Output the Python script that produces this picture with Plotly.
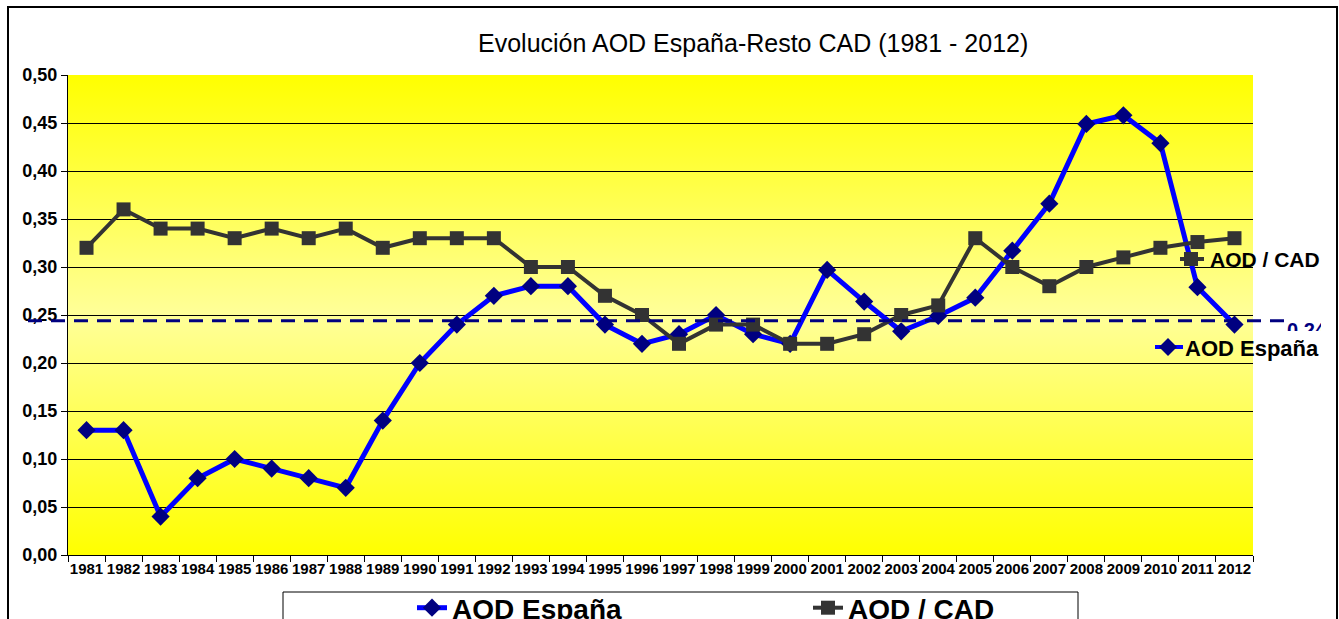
import plotly.graph_objects as go

# ---------------- data ----------------
years = ["1981", "1982", "1983", "1984", "1985", "1986", "1987", "1988", "1989", "1990",
         "1991", "1992", "1993", "1994", "1995", "1996", "1997", "1998", "1999", "2000",
         "2001", "2002", "2003", "2004", "2005", "2006", "2007", "2008", "2009", "2010",
         "2011", "2012"]
aod_espana = [0.13, 0.13, 0.04, 0.08, 0.10, 0.09, 0.08, 0.07, 0.14, 0.20,
              0.24, 0.27, 0.28, 0.28, 0.24, 0.22, 0.23, 0.25, 0.23, 0.22,
              0.297, 0.264, 0.233, 0.249, 0.268, 0.317, 0.366, 0.449, 0.458, 0.429,
              0.279, 0.24]
aod_cad = [0.32, 0.36, 0.34, 0.34, 0.33, 0.34, 0.33, 0.34, 0.32, 0.33,
           0.33, 0.33, 0.30, 0.30, 0.27, 0.25, 0.22, 0.24, 0.24, 0.22,
           0.22, 0.23, 0.25, 0.26, 0.33, 0.30, 0.28, 0.30, 0.31, 0.32,
           0.326, 0.33]
media_cad = 0.244
media_label = "0,24"
series_names = ["AOD España", "AOD / CAD"]
title_text = "Evolución AOD España-Resto CAD (1981 - 2012)"

# ---------------- layout helpers ----------------
W, H = 1339, 619
L, R, T, B = 68, 1253, 75, 555


def px2x(p):
    return (p - L) / (R - L)


def py2y(p):
    return (B - p) / (B - T)


ARIAL = "Liberation Sans, Arial, sans-serif"

BLUE = "#0000FF"
NAVY = "#000080"
GREY = "#333333"

fig = go.Figure()

fig.add_trace(go.Scatter(
    x=years, y=aod_espana, name=series_names[0], mode="lines+markers",
    line=dict(color=BLUE, width=5),
    marker=dict(symbol="diamond", size=14, color=NAVY),
))
fig.add_trace(go.Scatter(
    x=years, y=aod_cad, name=series_names[1], mode="lines+markers",
    line=dict(color=GREY, width=4),
    marker=dict(symbol="square", size=14, color=GREY),
))

# gradient background of plot area (svg data uri)
grad_svg = ("data:image/svg+xml;utf8,"
            "<svg xmlns='http://www.w3.org/2000/svg' width='10' height='100' preserveAspectRatio='none'>"
            "<defs><linearGradient id='g' x1='0' y1='0' x2='0' y2='1'>"
            "<stop offset='0' stop-color='%23FFFF00'/>"
            "<stop offset='0.5' stop-color='%23FFFF99'/>"
            "<stop offset='1' stop-color='%23FFFF00'/>"
            "</linearGradient></defs>"
            "<rect width='10' height='100' fill='url(%23g)'/></svg>")
fig.add_layout_image(dict(source=grad_svg, xref="paper", yref="paper", x=0, y=1,
                          sizex=1, sizey=1, xanchor="left", yanchor="top",
                          sizing="stretch", layer="below"))

shapes = []
# outer chart border
shapes.append(dict(type="rect", xref="paper", yref="paper",
                   x0=px2x(8), x1=px2x(1337), y0=py2y(7), y1=py2y(660),
                   line=dict(color="#000000", width=2), fillcolor="rgba(0,0,0,0)",
                   layer="above"))
# average dashed line
shapes.append(dict(type="line", xref="paper", yref="y",
                   x0=px2x(28), x1=px2x(1290), y0=media_cad, y1=media_cad,
                   line=dict(color=NAVY, width=3, dash="14px,9px"), layer="above"))
# bottom legend box
shapes.append(dict(type="rect", xref="paper", yref="paper",
                   x0=px2x(283), x1=px2x(1078), y0=py2y(592), y1=py2y(660),
                   line=dict(color="#000000", width=1), fillcolor="white", layer="below"))


def diamond_path(cx, cy, h):
    return (f"M{px2x(cx - h)},{py2y(cy)} L{px2x(cx)},{py2y(cy - h)} "
            f"L{px2x(cx + h)},{py2y(cy)} L{px2x(cx)},{py2y(cy + h)} Z")


# right-side series keys
shapes.append(dict(type="line", xref="paper", yref="paper",
                   x0=px2x(1180), x1=px2x(1204), y0=py2y(259), y1=py2y(259),
                   line=dict(color=GREY, width=4), layer="above"))
shapes.append(dict(type="rect", xref="paper", yref="paper",
                   x0=px2x(1184), x1=px2x(1198), y0=py2y(252), y1=py2y(266),
                   line=dict(width=0), fillcolor=GREY, layer="above"))
shapes.append(dict(type="line", xref="paper", yref="paper",
                   x0=px2x(1155), x1=px2x(1183), y0=py2y(347), y1=py2y(347),
                   line=dict(color=BLUE, width=4), layer="above"))
shapes.append(dict(type="path", xref="paper", yref="paper",
                   path=diamond_path(1168, 347, 9),
                   line=dict(width=0), fillcolor=NAVY, layer="above"))

annotations = [
    dict(text=title_text, xref="paper", yref="paper", x=px2x(753), y=py2y(43),
         xanchor="center", yanchor="middle", showarrow=False,
         font=dict(family=ARIAL, size=25, color="#000000")),
    dict(text=series_names[1], xref="paper", yref="paper", x=px2x(1208), y=py2y(259),
         xanchor="left", yanchor="middle", showarrow=False,
         font=dict(family=ARIAL, size=21, color="#000000", weight="bold")),
    dict(text=series_names[0], xref="paper", yref="paper", x=px2x(1183), y=py2y(348),
         xanchor="left", yanchor="middle", showarrow=False,
         font=dict(family=ARIAL, size=22, color="#000000", weight="bold")),
    dict(text=media_label, xref="paper", yref="paper", x=px2x(1286), y=py2y(318),
         xanchor="left", yanchor="top", showarrow=False, width=34, height=12,
         align="left", valign="top", borderpad=0,
         font=dict(family=ARIAL, size=20, color=NAVY, weight="bold")),
]

fig.update_layout(
    width=W, height=H,
    margin=dict(l=L, r=W - R, t=T, b=H - B, pad=0, autoexpand=False),
    paper_bgcolor="white",
    plot_bgcolor="rgba(0,0,0,0)",
    separators=",.",
    showlegend=True,
    legend=dict(orientation="h", x=px2x(283), xanchor="left", y=py2y(583), yanchor="top",
                bgcolor="rgba(0,0,0,0)", borderwidth=0, indentation=129,
                entrywidth=222, entrywidthmode="pixels", itemwidth=30,
                font=dict(family=ARIAL, size=28, color="#000000", weight="bold")),
    shapes=shapes,
    annotations=annotations,
    xaxis=dict(type="category", range=[-0.5, len(years) - 0.5], autorange=False,
               tickson="boundaries", ticks="outside", ticklen=6,
               tickcolor="#000000", showline=True, linecolor="#000000", linewidth=1,
               showgrid=False, tickangle=0,
               tickfont=dict(family=ARIAL, size=15, color="#000000", weight="bold")),
    yaxis=dict(range=[0, 0.5], autorange=False, dtick=0.05, tick0=0, tickformat=".2f",
               ticks="outside", ticklen=6, tickcolor="#000000", showline=True,
               linecolor="#000000", linewidth=1, showgrid=True, gridcolor="#000000",
               gridwidth=1, zeroline=False,
               tickfont=dict(family=ARIAL, size=18, color="#000000", weight="bold")),
)

fig.write_html("out.html", config={"displayModeBar": False},
               post_script="document.body.style.margin='0';document.body.style.overflow='hidden';")
